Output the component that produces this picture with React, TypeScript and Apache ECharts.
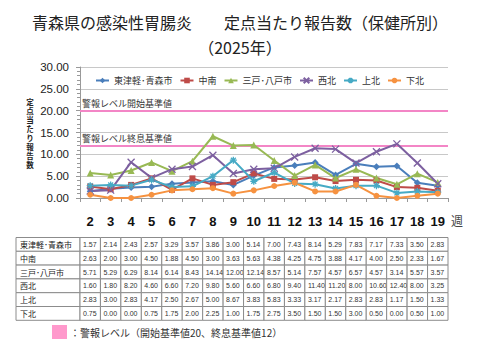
import React, { useEffect, useRef } from 'react';
import * as echarts from 'echarts';

const weeks = ['2', '3', '4', '5', '6', '7', '8', '9', '10', '11', '12', '13', '14', '15', '16', '17', '18', '19'];
const regions = ['東津軽･青森市', '中南', '三戸･八戸市', '西北', '上北', '下北'];
const higashiTsugaru = [1.57, 2.14, 2.43, 2.57, 3.29, 3.57, 3.86, 3.0, 5.14, 7.0, 7.43, 8.14, 5.29, 7.83, 7.17, 7.33, 3.5, 2.83];
const chunan = [2.63, 2.0, 3.0, 4.5, 1.88, 4.5, 3.0, 3.63, 5.63, 4.38, 4.25, 4.75, 3.88, 4.17, 4.0, 2.5, 2.33, 1.67];
const sannohe = [5.71, 5.29, 6.29, 8.14, 6.14, 8.43, 14.14, 12.0, 12.14, 8.57, 5.14, 7.57, 4.57, 6.57, 4.57, 3.14, 5.57, 3.57];
const seihoku = [1.6, 1.8, 8.2, 4.6, 6.6, 7.2, 9.8, 5.6, 6.6, 6.8, 9.4, 11.4, 11.2, 8.0, 10.6, 12.4, 8.0, 3.25];
const kamikita = [2.83, 3.0, 2.83, 4.17, 2.5, 2.67, 5.0, 8.67, 3.83, 5.83, 3.33, 3.17, 2.17, 2.83, 2.83, 1.17, 1.5, 1.33];
const shimokita = [0.75, 0.0, 0.0, 0.75, 1.75, 2.0, 2.25, 1.0, 1.75, 2.75, 3.5, 1.5, 1.5, 3.0, 0.5, 0.0, 0.5, 1.0];
const seriesValues = [higashiTsugaru, chunan, sannohe, seihoku, kamikita, shimokita];
const alertStart = 20;
const alertEnd = 12;
const yTicks = [0, 5, 10, 15, 20, 25, 30];
const yAxisTitle = '定点当たり報告数';

const colors = ['#4A7EBB', '#BE4B48', '#98B954', '#7D60A0', '#46AAC5', '#F69240'];
const symbols = [
  'diamond',
  'rect',
  'triangle',
  'path://M0,0L10,10M10,0L0,10',
  'path://M5,0L5,10M0,5L10,5M1.5,1.5L8.5,8.5M8.5,1.5L1.5,8.5',
  'circle',
];
const symbolSizes = [7, 6, 7, 7, 7, 6];

const JP = '"Noto Sans CJK JP", "Noto Sans", sans-serif';
const NUM = '"Liberation Sans", Arial, sans-serif';

const GRID_L = 80;
const GRID_R = 448;
const GRID_TOP = 67;
const GRID_BOTTOM_Y = 198;
const TABLE_TOP = 237.5;
const ROW_H = 13.8;
const LABEL_X = 16;

function buildTable() {
  const els: any[] = [];
  const bandW = (GRID_R - GRID_L) / weeks.length;
  regions.forEach((name, r) => {
    const y = TABLE_TOP + r * ROW_H;
    els.push({
      type: 'rect',
      shape: { x: LABEL_X, y, width: GRID_L - LABEL_X, height: ROW_H },
      style: { fill: '#fff', stroke: '#8c8c8c', lineWidth: 1 },
    });
    els.push({
      type: 'text',
      x: LABEL_X + 4,
      y: y + ROW_H / 2,
      style: { text: name, fontSize: 8, fontFamily: JP, fill: '#222', verticalAlign: 'middle', align: 'left' },
    });
    seriesValues[r].forEach((v, c) => {
      const x = GRID_L + c * bandW;
      els.push({
        type: 'rect',
        shape: { x, y, width: bandW, height: ROW_H },
        style: { fill: '#fff', stroke: '#8c8c8c', lineWidth: 1 },
      });
      els.push({
        type: 'text',
        x: x + 3,
        y: y + ROW_H / 2,
        style: { text: v.toFixed(2), fontSize: 7, fontFamily: NUM, fill: '#333', verticalAlign: 'middle', align: 'left' },
      });
    });
  });
  return els;
}

function buildYTitle() {
  return yAxisTitle.split('').map((ch, i) => ({
    type: 'text',
    x: 30,
    y: 101 + i * 9,
    style: {
      text: ch,
      fontSize: 7.5,
      fontWeight: 'bold',
      fontFamily: JP,
      fill: '#222',
      align: 'center',
      verticalAlign: 'middle',
    },
  }));
}

export default function App() {
  const ref = useRef<HTMLDivElement>(null);
  useEffect(() => {
    if (!ref.current) return;
    const chart = echarts.init(ref.current, undefined, { renderer: 'svg' });
    const series: any[] = regions.map((name, i) => ({
      name,
      type: 'line',
      data: seriesValues[i],
      symbol: symbols[i],
      symbolSize: symbolSizes[i],
      showAllSymbol: true,
      lineStyle: { color: colors[i], width: 2 },
      itemStyle: { color: colors[i], borderColor: colors[i], borderWidth: i === 3 || i === 4 ? 1.3 : 0 },
      z: 3,
    }));
    series[0].markLine = {
      silent: true,
      symbol: 'none',
      lineStyle: { color: '#F386C6', width: 2, type: 'solid' },
      label: {
        position: 'insideStartTop',
        fontSize: 9,
        fontFamily: JP,
        color: '#333',
        distance: [2, 3],
      },
      data: [
        { yAxis: alertStart, label: { formatter: '警報レベル開始基準値' } },
        { yAxis: alertEnd, label: { formatter: '警報レベル終息基準値' } },
      ],
      z: 2,
    };
    chart.setOption({
      animation: false,
      backgroundColor: '#fff',
      title: [
        {
          text: '青森県の感染性胃腸炎　　定点当たり報告数（保健所別）',
          left: 'center',
          top: 9,
          textStyle: { fontSize: 16, fontWeight: 'normal', fontFamily: JP, color: '#222' },
        },
        {
          text: '（2025年）',
          left: 'center',
          top: 34,
          textStyle: { fontSize: 16, fontWeight: 'normal', fontFamily: JP, color: '#222' },
        },
      ],
      legend: {
        top: 71,
        left: 90,
        itemGap: 7,
        itemWidth: 13,
        itemHeight: 7,
        textStyle: { fontSize: 9, fontFamily: JP, color: '#333' },
        data: regions,
      },
      grid: { left: GRID_L, right: 480 - GRID_R, top: GRID_TOP, bottom: 360 - GRID_BOTTOM_Y, containLabel: false },
      xAxis: {
        type: 'category',
        data: weeks,
        boundaryGap: true,
        axisLine: { lineStyle: { color: '#999' } },
        axisTick: { show: true, alignWithLabel: false, length: 4, lineStyle: { color: '#999' } },
        axisLabel: { fontSize: 13, fontFamily: NUM, color: '#111', margin: 17, fontWeight: 'bold' },
      },
      yAxis: {
        type: 'value',
        min: yTicks[0],
        max: yTicks[yTicks.length - 1],
        interval: 5,
        axisLine: { show: true, lineStyle: { color: '#999' } },
        axisTick: { show: true, length: 4, inside: false, lineStyle: { color: '#999' } },
        minorTick: { show: true, splitNumber: 5, length: 3, lineStyle: { color: '#999' } },
        splitLine: { lineStyle: { color: '#c8c8c8' } },
        axisLabel: {
          fontSize: 11.5,
          fontFamily: NUM,
          color: '#222',
          margin: 11,
          formatter: (v: number) => v.toFixed(2),
        },
      },
      graphic: [
        ...buildYTitle(),
        {
          type: 'text',
          x: 451,
          y: 214,
          style: { text: '週', fontSize: 12, fontFamily: JP, fill: '#444' },
        },
        ...buildTable(),
        {
          type: 'rect',
          shape: { x: 52, y: 325, width: 15, height: 14 },
          style: { fill: '#FF99CC' },
        },
        {
          type: 'text',
          x: 70,
          y: 332,
          style: {
            text: '：警報レベル（開始基準値20、終息基準値12）',
            fontSize: 10,
            fontFamily: JP,
            fill: '#333',
            verticalAlign: 'middle',
          },
        },
      ],
      series,
    });
    return () => chart.dispose();
  }, []);
  return <div ref={ref} style={{ width: 480, height: 360, position: 'absolute', left: 0, top: 0 }} />;
}
